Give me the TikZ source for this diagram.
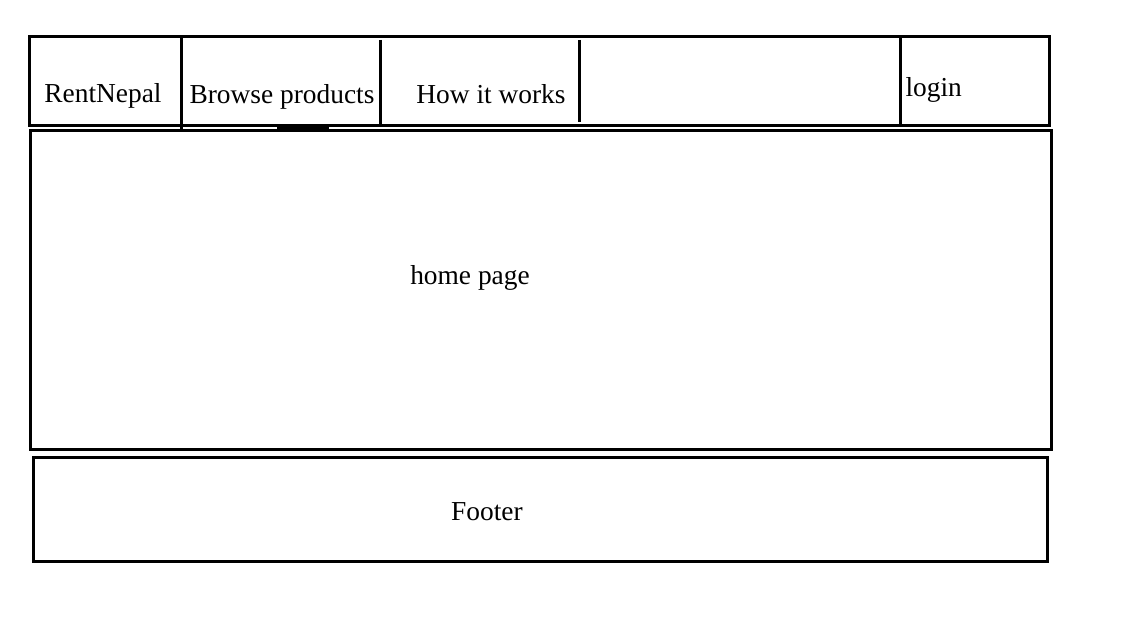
\documentclass[tikz,border=0pt]{standalone}
\usepackage{fontspec}
\setmainfont{Liberation Serif}
\usetikzlibrary{positioning}

\begin{document}
\begin{tikzpicture}[x=1pt,y=-1pt,line width=3pt,
    lbl/.style={inner sep=0pt,font=\fontsize{27.4}{31}\selectfont}]
    \useasboundingbox (0,0) rectangle (1130,617);
    % header bar
    \draw (29,37) rectangle (1049,126);
    \draw (181,37) -- (181,129);
    \draw (380,40) -- (380,126);
    \draw (579,40) -- (579,122);
    \draw (900,37) -- (900,126);
    \draw[line width=2pt] (277,128) -- (329,128);
    \node[lbl] (brand) at (103,96) {RentNepal};
    \node[lbl] (browse) at (282,97) {Browse products};
    \node[lbl] (how) at (491,94) {How it works};
    \node[lbl,anchor=west] (login) at (904,90) {login};
    % home page
    \draw (30,131) rectangle (1051,449);
    \node[lbl] (home) at (470,278) {home page};
    % footer
    \draw (33,457) rectangle (1047,561);
    \node[lbl] (footer) at (487,512) {Footer};
\end{tikzpicture}
\end{document}
